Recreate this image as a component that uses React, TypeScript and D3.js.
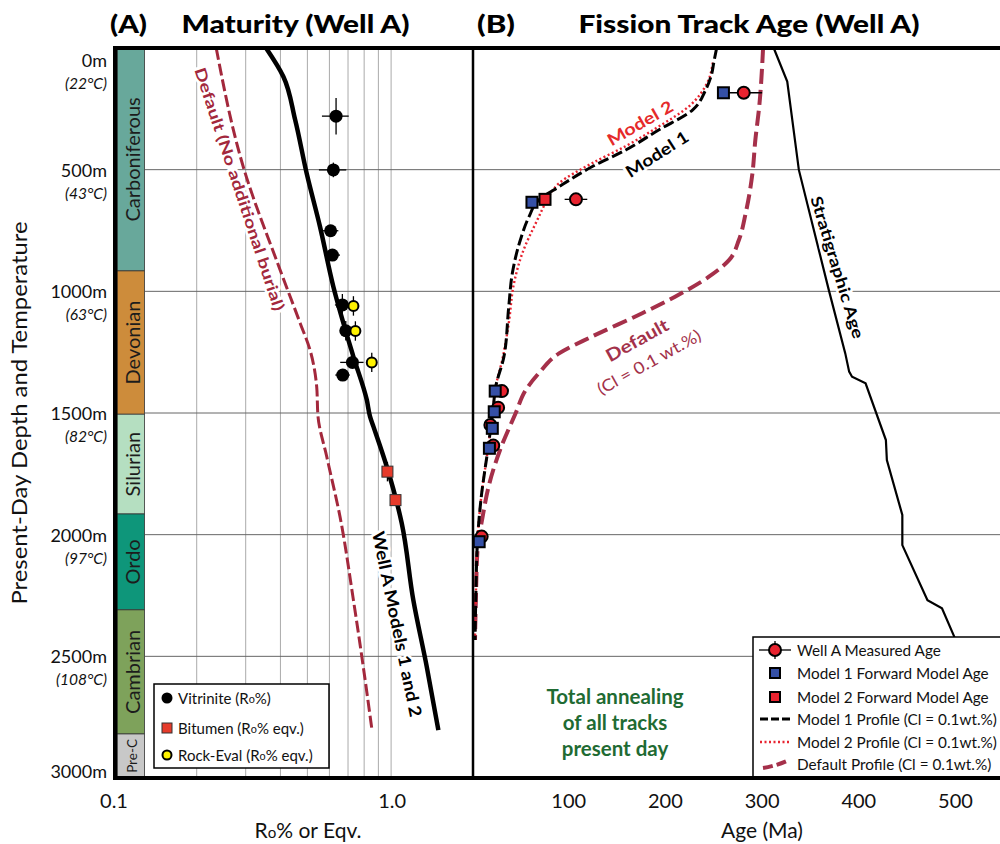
import { useEffect, useRef } from "react";
import * as d3 from "d3";

// depth axis (m) and present-day temperature at each depth
const depthTicks = [0, 500, 1000, 1500, 2000, 2500, 3000];
const depthTemps = ["(22°C)", "(43°C)", "(63°C)", "(82°C)", "(97°C)", "(108°C)", ""];

// stratigraphic column (base depth of each unit, m)
const stratUnits = ["Carboniferous", "Devonian", "Silurian", "Ordo", "Cambrian", "Pre-C"];
const stratBase = [916, 1505, 1915, 2309, 2819, 3000];
const stratColors = ["#68a89b", "#cd8c3b", "#b5dfc1", "#0e967a", "#7ea25b", "#c8c8c8"];

// panel A: Ro% grid and tick labels
const roGrid = [0.2, 0.3, 0.4, 0.5, 0.6, 0.7, 0.8, 0.9, 1.0];
const roTicks = [0.1, 1.0];

// panel A: modelled maturity profiles (depth m -> Ro%)
const wellModelDepth = [0, 118, 296, 515, 734, 981, 1269, 1447, 1515, 1556, 1721, 1953, 2269, 2542, 2803];
const wellModelRo = [0.355, 0.41, 0.452, 0.497, 0.555, 0.62, 0.732, 0.818, 0.84, 0.864, 0.965, 1.092, 1.202, 1.343, 1.479];
const defaultRoDepth = [0, 488, 912, 1131, 1241, 1392, 1515, 1680, 1926, 2269, 2542, 2796];
const defaultRo = [0.235, 0.294, 0.399, 0.471, 0.511, 0.54, 0.546, 0.587, 0.655, 0.732, 0.794, 0.852];

// panel A: measurements (depth, Ro, Ro error, depth error)
const vitDepth = [280, 501, 751, 851, 1056, 1162, 1292, 1344];
const vitRo = [0.634, 0.62, 0.606, 0.615, 0.668, 0.687, 0.726, 0.67];
const vitRoErr = [0.07, 0.07, 0.04, 0.04, 0.04, 0.03, 0.07, 0.04];
const vitDepthErr = [75, 30, 0, 15, 45, 40, 0, 0];
const bitDepth = [1741, 1858];
const bitRo = [0.97, 1.037];
const bitRoErr = [0.02, 0.03];
const bitDepthErr = [40, 0];
const rockDepth = [1060, 1163, 1292];
const rockRo = [0.732, 0.744, 0.852];
const rockRoErr = [0, 0, 0.02];
const rockDepthErr = [40, 40, 40];

// panel B: age axis
const ageTicks = [100, 200, 300, 400, 500];

// panel B: profiles (depth m -> age Ma)
const model1Depth = [0, 60, 104, 173, 255, 337, 419, 488, 570, 625, 693, 789, 926, 1063, 1269, 1392, 1490, 1652, 1858, 2022, 2269, 2433];
const model1Age = [253, 250, 248, 241.5, 228, 193, 159, 124, 90, 69, 59, 50, 41.7, 38, 33, 24.5, 21.7, 16.3, 9.2, 5.7, 3.9, 3.1];
const model2Depth = [60, 145, 241, 323, 403, 474, 556, 638, 707, 844, 967, 1131, 1282, 1392, 1490, 1652, 1858, 2022, 2269, 2433];
const model2Age = [249, 243, 224, 193, 159, 124, 90, 76, 67.5, 52, 43.4, 38, 31.3, 24.5, 21.7, 16.3, 9.2, 5.7, 3.9, 3.1];
const defaultAgeDepth = [0, 241, 378, 515, 679, 789, 871, 940, 1022, 1090, 1186, 1255, 1337, 1406, 1502, 1652, 1789, 1926, 2063, 2269, 2433];
const defaultAge = [301, 297, 293, 290, 283, 276, 266, 245, 210, 176, 124, 90, 69, 55.5, 45, 29, 18, 11, 5.7, 4, 3.1];
const stratAgeDepth = [0, 138, 501, 995, 1255, 1330, 1351, 1378, 1611, 1693, 1919, 2043, 2269, 2303, 2413, 2460];
const stratAge = [312, 326, 338, 369, 386, 390, 393, 407, 428, 429, 445, 445, 471, 486, 498, 503];

// panel B: measured and forward-modelled ages
const measDepth = [184, 622, 1410, 1478, 1549, 1634, 2008];
const measAge = [281, 107.5, 31, 27, 19, 22, 10];
const measErr = [19, 11.7, 0, 0, 0, 0, 0];
const fwd1Depth = [184, 634, 1410, 1495, 1563, 1645, 2029];
const fwd1Age = [260, 62, 24, 23, 21, 18, 7.4];
const fwd2Depth = [622];
const fwd2Age = [75.5];

const legendB = [
  "Well A Measured Age",
  "Model 1 Forward Model Age",
  "Model 2 Forward Model Age",
  "Model 1 Profile (Cl = 0.1wt.%)",
  "Model 2 Profile (Cl = 0.1wt.%)",
  "Default Profile (Cl = 0.1wt.%)",
];

const FONT = "Lato, 'Open Sans', sans-serif";
const DARK_RED = "#a3283c";
const RED = "#e8232f";
const BLUE = "#3550a6";

type P = [number, number];

function App() {
  const svgRef = useRef<SVGSVGElement | null>(null);

  useEffect(() => {
    document.body.style.margin = "0";
    const svg: any = d3.select(svgRef.current);
    svg.selectAll("*").remove();
    svg.attr("font-family", FONT);

    const y = d3.scaleLinear().domain([0, 3000]).range([48, 778]);
    const xRo = d3.scaleLog().domain([0.1, 1.97]).range([113, 473]);
    const xAge = d3.scaleLinear().domain([0, 546]).range([472, 1000]);

    svg.append("rect").attr("width", 1000).attr("height", 844).attr("fill", "#fff");

    // grid
    svg.append("g").selectAll("line").data(roGrid).join("line")
      .attr("x1", (d: number) => xRo(d)).attr("x2", (d: number) => xRo(d))
      .attr("y1", y(0)).attr("y2", y(3000))
      .attr("stroke", "#aaa").attr("stroke-width", 1);
    svg.append("g").selectAll("line").data(depthTicks.slice(1, -1)).join("line")
      .attr("x1", 145).attr("x2", 1000)
      .attr("y1", (d: number) => y(d)).attr("y2", (d: number) => y(d))
      .attr("stroke", "#666").attr("stroke-width", 1);

    // stratigraphic column
    const tops = stratBase.map((_, i) => (i === 0 ? 0 : stratBase[i - 1]));
    const col = svg.append("g");
    col.selectAll("rect").data(stratUnits).join("rect")
      .attr("x", 117).attr("width", 27.5)
      .attr("y", (_: any, i: number) => y(tops[i]))
      .attr("height", (_: any, i: number) => y(stratBase[i]) - y(tops[i]))
      .attr("fill", (_: any, i: number) => stratColors[i])
      .attr("stroke", "#333").attr("stroke-width", 0.8);
    col.selectAll("text").data(stratUnits).join("text")
      .attr("transform", (_: any, i: number) =>
        `translate(131.5,${(y(tops[i]) + y(stratBase[i])) / 2}) rotate(-90)`)
      .attr("text-anchor", "middle").attr("dominant-baseline", "central")
      .attr("font-size", (d: string) => (d === "Pre-C" ? 13.5 : 20))
      .attr("fill", "#1c1c1c").text((d: string) => d);

    // panel A profiles
    const roLine: any = d3.line<P>().x((d) => xRo(d[1])).y((d) => y(d[0])).curve(d3.curveMonotoneY);
    svg.append("path").datum(d3.zip(defaultRoDepth, defaultRo)).attr("d", roLine)
      .attr("fill", "none").attr("stroke", DARK_RED).attr("stroke-width", 3)
      .attr("stroke-dasharray", "12 4");
    svg.append("path").datum(d3.zip(wellModelDepth, wellModelRo)).attr("d", roLine)
      .attr("fill", "none").attr("stroke", "#000").attr("stroke-width", 4.5);

    // error bars (Ro)
    const errA = svg.append("g").attr("stroke", "#000").attr("stroke-width", 1.3);
    const roErrBars = (dep: number[], ro: number[], re: number[], de: number[]) => {
      dep.forEach((d, i) => {
        if (re[i] > 0)
          errA.append("line").attr("x1", xRo(ro[i] - re[i])).attr("x2", xRo(ro[i] + re[i]))
            .attr("y1", y(d)).attr("y2", y(d));
        if (de[i] > 0)
          errA.append("line").attr("x1", xRo(ro[i])).attr("x2", xRo(ro[i]))
            .attr("y1", y(d - de[i])).attr("y2", y(d + de[i]));
      });
    };
    roErrBars(vitDepth, vitRo, vitRoErr, vitDepthErr);
    roErrBars(rockDepth, rockRo, rockRoErr, rockDepthErr);
    roErrBars(bitDepth, bitRo, bitRoErr, bitDepthErr);

    svg.append("g").selectAll("circle").data(vitDepth).join("circle")
      .attr("cx", (_: any, i: number) => xRo(vitRo[i])).attr("cy", (d: number) => y(d))
      .attr("r", 6.5).attr("fill", "#000");
    svg.append("g").selectAll("circle").data(rockDepth).join("circle")
      .attr("cx", (_: any, i: number) => xRo(rockRo[i])).attr("cy", (d: number) => y(d))
      .attr("r", 5).attr("fill", "#fff200").attr("stroke", "#000").attr("stroke-width", 2);
    svg.append("g").selectAll("rect").data(bitDepth).join("rect")
      .attr("x", (_: any, i: number) => xRo(bitRo[i]) - 5.5).attr("y", (d: number) => y(d) - 5.5)
      .attr("width", 11).attr("height", 11)
      .attr("fill", "#e63b2b").attr("stroke", "#333").attr("stroke-width", 1);

    // panel B profiles
    const ageLine: any = d3.line<P>().x((d) => xAge(d[1])).y((d) => y(d[0])).curve(d3.curveMonotoneY);
    svg.append("path").datum(d3.zip(stratAgeDepth, stratAge))
      .attr("d", d3.line<P>().x((d) => xAge(d[1])).y((d) => y(d[0])))
      .attr("fill", "none").attr("stroke", "#000").attr("stroke-width", 2.2);
    svg.append("path").datum(d3.zip(defaultAgeDepth, defaultAge)).attr("d", ageLine)
      .attr("fill", "none").attr("stroke", "#a5304a").attr("stroke-width", 4)
      .attr("stroke-dasharray", "15 6");
    svg.append("path").datum(d3.zip(model2Depth, model2Age)).attr("d", ageLine)
      .attr("fill", "none").attr("stroke", RED).attr("stroke-width", 2.4)
      .attr("stroke-dasharray", "2 2.5");
    svg.append("path").datum(d3.zip(model1Depth, model1Age)).attr("d", ageLine)
      .attr("fill", "none").attr("stroke", "#000").attr("stroke-width", 3)
      .attr("stroke-dasharray", "11 4");

    // measured ages with error bars
    measDepth.forEach((d, i) => {
      if (measErr[i] > 0)
        svg.append("line").attr("x1", xAge(measAge[i] - measErr[i])).attr("x2", xAge(measAge[i] + measErr[i]))
          .attr("y1", y(d)).attr("y2", y(d)).attr("stroke", "#000").attr("stroke-width", 1.3);
    });
    svg.append("g").selectAll("circle").data(measDepth).join("circle")
      .attr("cx", (_: any, i: number) => xAge(measAge[i])).attr("cy", (d: number) => y(d))
      .attr("r", 6).attr("fill", RED).attr("stroke", "#000").attr("stroke-width", 2);
    svg.append("g").selectAll("rect").data(fwd1Depth).join("rect")
      .attr("x", (_: any, i: number) => xAge(fwd1Age[i]) - 5.5).attr("y", (d: number) => y(d) - 5.5)
      .attr("width", 11).attr("height", 11)
      .attr("fill", BLUE).attr("stroke", "#000").attr("stroke-width", 2);
    svg.append("g").selectAll("rect").data(fwd2Depth).join("rect")
      .attr("x", (_: any, i: number) => xAge(fwd2Age[i]) - 5.5).attr("y", (d: number) => y(d) - 5.5)
      .attr("width", 11).attr("height", 11)
      .attr("fill", RED).attr("stroke", "#000").attr("stroke-width", 2);

    // curve labels
    const label = (txt: string, x: number, yy: number, angle: number, size: number,
      weight: string, fill: string, len?: number) => {
      const t = svg.append("text")
        .attr("transform", `translate(${x},${yy}) rotate(${angle})`)
        .attr("text-anchor", "middle").attr("dominant-baseline", "central")
        .attr("font-size", size).attr("font-weight", weight).attr("fill", fill)
        .attr("stroke", "#fff").attr("stroke-width", 5).attr("stroke-linejoin", "round")
        .attr("paint-order", "stroke").text(txt);
      if (len) t.attr("textLength", len).attr("lengthAdjust", "spacingAndGlyphs");
    };
    label("Default (No additional burial)", 240, 189, 71.7, 15.5, "bold", DARK_RED, 255);
    label("Well A Models 1 and 2", 397.5, 624, 78.3, 17, "bold", "#000", 189);
    label("Model 2", 640, 123, -30, 16.5, "bold", "#e52a2a", 73);
    label("Model 1", 657, 154, -32.5, 16.5, "bold", "#000", 71);
    label("Default", 637, 340, -29, 17.5, "bold", "#a3324a", 69);
    label("(Cl = 0.1 wt.%)", 649, 362, -29, 16.5, "normal", "#a3324a", 116);
    label("Stratigraphic Age", 838, 267, 73, 16, "bold", "#000", 148);

    const ann = svg.append("text").attr("text-anchor", "middle").attr("font-size", 20.5)
      .attr("font-weight", "bold").attr("fill", "#1f6b33");
    ["Total annealing", "of all tracks", "present day"].forEach((s, i) =>
      ann.append("tspan").attr("x", 615).attr("y", 704 + i * 26).text(s));

    // Ro text helper (subscript-like small o)
    const roText = (sel: any, before: string, after: string) => {
      sel.append("tspan").text(before + "R");
      sel.append("tspan").attr("font-size", "0.72em").text("o");
      sel.append("tspan").text(after);
    };

    // legend A
    const legA = svg.append("g");
    legA.append("rect").attr("x", 154).attr("y", 684).attr("width", 175).attr("height", 84)
      .attr("fill", "#fff").attr("stroke", "#000").attr("stroke-width", 1.5);
    const legAy = [698, 728, 755];
    legA.append("circle").attr("cx", 167).attr("cy", legAy[0]).attr("r", 5.5).attr("fill", "#000");
    legA.append("rect").attr("x", 162).attr("y", legAy[1] - 5).attr("width", 10).attr("height", 10)
      .attr("fill", "#e63b2b").attr("stroke", "#333").attr("stroke-width", 1);
    legA.append("circle").attr("cx", 167).attr("cy", legAy[2]).attr("r", 4.5)
      .attr("fill", "#fff200").attr("stroke", "#000").attr("stroke-width", 2);
    const legAText = [["Vitrinite (", "%)"], ["Bitumen (", "% eqv.)"], ["Rock-Eval (", "% eqv.)"]];
    legAText.forEach((p, i) => {
      const t = legA.append("text").attr("x", 178).attr("y", legAy[i])
        .attr("dominant-baseline", "central").attr("font-size", 15).attr("fill", "#111");
      roText(t, p[0], p[1]);
    });

    // legend B
    const legB = svg.append("g");
    legB.append("rect").attr("x", 753).attr("y", 637).attr("width", 260).attr("height", 142)
      .attr("fill", "#fff").attr("stroke", "#000").attr("stroke-width", 1.5);
    const legBy = [650, 673, 697, 719, 742, 764];
    legB.append("line").attr("x1", 759).attr("x2", 791).attr("y1", legBy[0]).attr("y2", legBy[0])
      .attr("stroke", "#000").attr("stroke-width", 1.3);
    legB.append("line").attr("x1", 775).attr("x2", 775).attr("y1", legBy[0] - 9).attr("y2", legBy[0] + 9)
      .attr("stroke", "#000").attr("stroke-width", 1.3);
    legB.append("circle").attr("cx", 775).attr("cy", legBy[0]).attr("r", 6)
      .attr("fill", RED).attr("stroke", "#000").attr("stroke-width", 2);
    legB.append("rect").attr("x", 770).attr("y", legBy[1] - 5).attr("width", 10).attr("height", 10)
      .attr("fill", BLUE).attr("stroke", "#000").attr("stroke-width", 2);
    legB.append("rect").attr("x", 770).attr("y", legBy[2] - 5).attr("width", 10).attr("height", 10)
      .attr("fill", RED).attr("stroke", "#000").attr("stroke-width", 2);
    legB.append("line").attr("x1", 760).attr("x2", 791).attr("y1", legBy[3]).attr("y2", legBy[3])
      .attr("stroke", "#000").attr("stroke-width", 3).attr("stroke-dasharray", "8 3");
    legB.append("line").attr("x1", 760).attr("x2", 791).attr("y1", legBy[4]).attr("y2", legBy[4])
      .attr("stroke", RED).attr("stroke-width", 2.4).attr("stroke-dasharray", "2 2.5");
    legB.append("path").attr("d", `M763,${legBy[5] + 4} Q776,${legBy[5] + 2} 789,${legBy[5] - 4}`)
      .attr("fill", "none").attr("stroke", "#a5304a").attr("stroke-width", 4)
      .attr("stroke-dasharray", "10 4");
    legB.selectAll("text").data(legendB).join("text")
      .attr("x", 797).attr("y", (_: any, i: number) => legBy[i])
      .attr("dominant-baseline", "central").attr("font-size", 15.3).attr("fill", "#111")
      .text((d: string) => d);

    // frame
    svg.append("line").attr("x1", 113).attr("x2", 1000).attr("y1", 48).attr("y2", 48)
      .attr("stroke", "#000").attr("stroke-width", 4);
    svg.append("line").attr("x1", 113).attr("x2", 1000).attr("y1", 778).attr("y2", 778)
      .attr("stroke", "#000").attr("stroke-width", 4);
    svg.append("line").attr("x1", 115.2).attr("x2", 115.2).attr("y1", 46).attr("y2", 780)
      .attr("stroke", "#000").attr("stroke-width", 4.4);
    svg.append("line").attr("x1", 473).attr("x2", 473).attr("y1", 48).attr("y2", 778)
      .attr("stroke", "#000").attr("stroke-width", 2.5);

    // depth labels
    depthTicks.forEach((d, i) => {
      const off = i === 0 ? 12 : i === depthTicks.length - 1 ? -7 : 0;
      svg.append("text").attr("x", 107).attr("y", y(d) + 7 + off).attr("text-anchor", "end")
        .attr("font-size", 18).attr("fill", "#111").text(`${d}m`);
      if (depthTemps[i])
        svg.append("text").attr("x", 107).attr("y", y(d) + 29 + off).attr("text-anchor", "end")
          .attr("font-size", 15.5).attr("font-style", "italic").attr("fill", "#111").text(depthTemps[i]);
    });
    svg.append("text").attr("transform", "translate(18,413) rotate(-90)")
      .attr("text-anchor", "middle").attr("dominant-baseline", "central")
      .attr("font-size", 22).attr("fill", "#111")
      .attr("textLength", 383).attr("lengthAdjust", "spacingAndGlyphs")
      .text("Present-Day Depth and Temperature");

    // bottom tick labels
    svg.append("g").selectAll("text").data(roTicks).join("text")
      .attr("x", (d: number) => xRo(d) + 1).attr("y", 808).attr("text-anchor", "middle")
      .attr("font-size", 20).attr("fill", "#111").text((d: number) => d3.format(".1f")(d));
    svg.append("g").selectAll("text").data(ageTicks).join("text")
      .attr("x", (d: number) => xAge(d)).attr("y", 808).attr("text-anchor", "middle")
      .attr("font-size", 20).attr("fill", "#111").text((d: number) => d);
    const roAxis = svg.append("text").attr("x", 308).attr("y", 838).attr("text-anchor", "middle")
      .attr("font-size", 21).attr("fill", "#111");
    roText(roAxis, "", "% or Eqv.");
    svg.append("text").attr("x", 762).attr("y", 838).attr("text-anchor", "middle")
      .attr("font-size", 21).attr("fill", "#111").text("Age (Ma)");

    // titles
    const title = (txt: string, x: number, len: number) =>
      svg.append("text").attr("x", x).attr("y", 33).attr("text-anchor", "middle")
        .attr("font-size", 25).attr("font-weight", "900").attr("fill", "#000")
        .attr("textLength", len).attr("lengthAdjust", "spacingAndGlyphs").text(txt);
    title("(A)", 128.5, 37);
    title("Maturity (Well A)", 295.5, 228);
    title("(B)", 496, 38);
    title("Fission Track Age (Well A)", 749, 341);
  }, []);

  return (
    <div className="chart">
      <svg ref={svgRef} width={1000} height={844} style={{ display: "block" }}></svg>
    </div>
  );
}

export default App;
